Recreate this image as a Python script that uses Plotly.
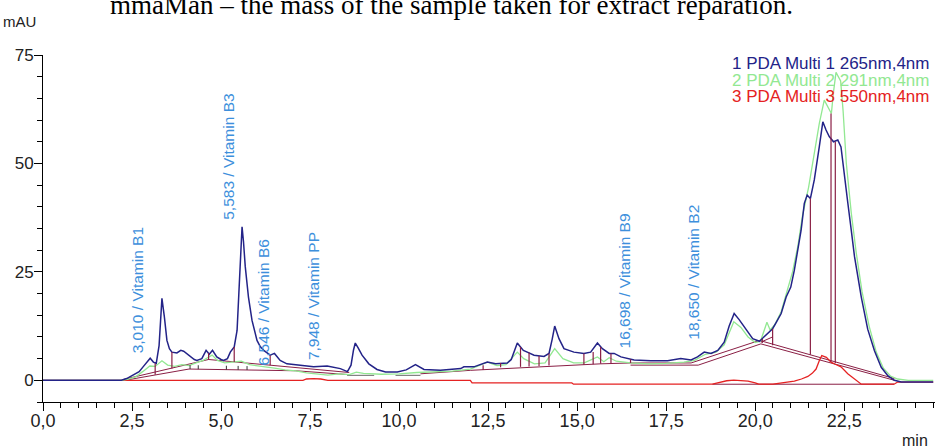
import plotly.graph_objects as go

# ---------------- data ----------------
blue_x = [0, 2.2, 2.35, 2.53, 2.7, 2.81, 2.92, 3.01, 3.1, 3.18, 3.26, 3.34, 3.41, 3.48, 3.55, 3.62, 3.76, 3.87, 3.95,
          4.05, 4.13, 4.25, 4.32, 4.46, 4.58, 4.67, 4.76, 4.88, 5.0, 5.07, 5.18, 5.26, 5.37, 5.45, 5.5, 5.55, 5.59,
          5.63, 5.68, 5.77, 5.87, 6.01, 6.1, 6.2, 6.38, 6.5, 6.66, 6.85, 7.23, 7.6, 7.98, 8.35, 8.55, 8.65, 8.72,
          8.77, 8.85, 8.96, 9.15, 9.38, 9.62, 9.95, 10.2, 10.46, 10.7, 11.16, 11.73, 11.82, 12.1, 12.48, 12.71,
          13.04, 13.15, 13.23, 13.32, 13.41, 13.49, 13.6, 13.79, 14.07, 14.21, 14.3, 14.37, 14.49, 14.63, 14.91,
          15.19, 15.38, 15.57, 15.71, 15.9, 16.04, 16.23, 16.6, 17.07, 17.54, 17.91, 18.2, 18.38, 18.57, 18.76,
          18.95, 19.13, 19.27, 19.41, 19.55, 19.69, 19.93, 20.12, 20.3, 20.49, 20.6, 20.73, 20.87, 21.0, 21.1,
          21.19, 21.29, 21.38, 21.46, 21.55, 21.66, 21.8, 21.9, 21.99, 22.08, 22.2, 22.32, 22.41, 22.5, 22.6,
          22.7, 22.79, 22.98, 23.16, 23.35, 23.54, 23.73, 23.91, 24.1, 25.0]
blue_y = [0, 0, 0.4, 1.15, 2.0, 3.1, 4.2, 5.1, 4.2, 3.9, 8.0, 18.9, 14.5, 9.2, 7.3, 6.5, 6.3, 6.9, 6.7,
          6.0, 5.5, 4.8, 4.6, 5.0, 6.9, 6.0, 6.9, 5.4, 4.8, 4.6, 5.0, 6.5, 7.7, 11.5, 20.0, 31.0, 35.4,
          32.0, 26.2, 19.2, 13.8, 9.2, 7.8, 6.9, 5.8, 6.2, 4.6, 3.8, 3.5, 3.1, 3.3, 2.7, 2.0, 3.5, 7.0,
          8.6, 7.5, 5.8, 3.8, 2.5, 1.9, 1.9, 2.4, 3.6, 2.5, 2.3, 2.7, 3.1, 3.1, 4.2, 3.8,
          4.0, 4.8, 6.5, 8.6, 7.7, 6.9, 6.5, 5.8, 5.5, 6.2, 9.5, 12.5, 9.6, 7.3, 6.5,
          6.2, 6.5, 8.6, 7.3, 6.2, 6.2, 5.4, 4.7, 4.5, 4.5, 5.0, 4.7, 5.4, 6.5, 6.2,
          6.9, 8.8, 12.5, 15.4, 14.0, 12.3, 9.6, 9.0, 10.4, 11.9, 13.5, 15.4, 19.2, 21.5, 25.4,
          30.0, 34.6, 40.8, 42.7, 41.9, 46.2, 53.8, 59.6, 57.7, 56.2, 55.0, 55.4, 53.8, 47.0, 41.0,
          34.5, 28.5, 19.2, 11.8, 6.8, 3.0, 1.0, 0.0, -0.4, -0.4]

green_x = [0, 2.2, 2.4, 2.6, 2.8, 3.0, 3.15, 3.34, 3.5, 3.7, 3.9, 4.1, 4.3, 4.5, 4.62, 4.75, 4.9, 5.1, 5.3,
           5.57, 5.8, 6.0, 6.3, 6.5, 6.8, 7.1, 7.4, 7.7, 8.0, 8.3, 8.6, 8.8, 9.0, 9.5, 10.0, 10.5, 11.0,
           11.5, 12.0, 12.48, 12.75, 13.0, 13.32, 13.5, 13.8, 14.1, 14.37, 14.6, 14.9, 15.2, 15.57, 15.75,
           15.9, 16.1, 16.5, 17.0, 17.5, 18.0, 18.3, 18.6, 18.9, 19.13, 19.4, 19.6, 19.8, 20.0, 20.15, 20.33,
           20.42, 20.55, 20.73, 20.9, 21.05, 21.2, 21.33, 21.5, 21.62, 21.8, 21.94, 22.05, 22.14, 22.2,
           22.27, 22.4, 22.47, 22.56, 22.7, 22.84, 23.0, 23.2, 23.4, 23.6, 23.8, 24.0, 24.3, 25.0]
green_y = [0, 0, 0.3, 0.8, 2.0, 3.3, 3.2, 4.5, 3.5, 3.2, 3.6, 3.4, 4.0, 4.6, 5.2, 5.8, 4.6, 4.0, 4.2,
           4.4, 3.6, 3.4, 3.0, 2.8, 2.4, 2.2, 1.7, 1.4, 1.2, 1.5, 1.3, 1.9, 1.6, 1.4, 1.5, 1.8, 1.9,
           2.1, 2.6, 4.2, 3.4, 3.6, 6.5, 5.0, 3.8, 4.0, 7.3, 5.0, 4.0, 4.0, 5.4, 4.3,
           5.2, 4.4, 4.0, 3.8, 3.9, 4.2, 4.6, 6.0, 6.5, 8.2, 13.5, 12.2, 10.0, 8.7, 9.0, 13.4,
           11.6, 12.8, 15.8, 20.5, 25.0, 31.0, 38.0, 44.5, 50.0, 59.2, 64.6, 63.0, 61.5, 66.5,
           71.0, 69.0, 62.0, 50.0, 38.5, 29.3, 20.5, 12.5, 6.5, 2.8, 1.0, 0.3, 0.0, 0.0]

red_x = [0, 7.3, 7.4, 7.6, 7.8, 7.95, 8.0, 12.0, 12.05, 14.85, 14.9, 18.8, 19.0, 19.2, 19.4, 19.6, 19.8,
         20.0, 20.1, 20.5, 20.8, 21.1, 21.3, 21.48, 21.6, 21.71, 21.8, 21.87, 22.0, 22.13, 22.25, 22.41,
         22.6, 22.75, 22.88, 22.98, 23.35, 23.9, 24.0, 25.0]
red_y = [0, 0, 0.3, 0.4, 0.3, 0.1, 0, 0, -0.6, -0.6, -0.9, -0.9, -0.5, -0.1, 0.05, 0.0, -0.2,
         -0.6, -0.9, -0.9, -0.6, -0.2, 0.3, 0.9, 1.6, 2.6, 4.5, 5.7, 5.3, 4.2, 3.7, 3.1,
         1.5, 0.5, -0.4, -0.9, -0.9, -0.9, -0.4, -0.4]

# integration baselines (maroon polylines)
baseline_lines = [
    ([2.26, 4.65, 8.6], [0.2, 4.8, 1.8]),
    ([2.3, 4.1, 7.1, 8.6], [0.0, 2.6, 2.2, 1.3]),
    ([10.6, 12.0, 15.66, 16.5, 18.2, 20.12, 23.91], [1.5, 2.3, 3.8, 4.0, 4.0, 9.2, 0.4]),
    ([16.5, 18.4, 20.16, 23.91], [3.5, 3.5, 8.4, 0.0]),
    ([20.16, 20.49], [8.8, 10.0]),
    ([18.8, 23.9], [-0.9, -0.9]),
]
gray_lines = [
    ([8.54, 9.3], [1.15, 1.15]),
    ([9.9, 10.6], [1.15, 1.15]),
]
# drop lines: (time, top, bottom)
drop_t = [3.15, 3.62, 4.65, 5.37, 6.38, 12.36, 12.85, 13.41, 13.65, 13.93, 14.21, 15.19, 15.45, 15.66,
          15.95, 16.5, 20.2, 20.49, 21.55, 22.13, 22.25]
drop_top = [3.9, 6.5, 6.3, 7.7, 5.8, 3.5, 4.0, 7.7, 6.4, 5.6, 6.2, 6.2, 6.5, 7.7,
            6.2, 4.9, 9.5, 11.9, 41.9, 61.5, 55.0]
drop_bot = [1.3, 2.7, 4.7, 4.2, 3.5, 2.4, 3.0, 3.1, 3.2, 3.3, 3.4, 3.6, 3.7, 3.8,
            3.9, 4.0, 8.6, 8.1, 5.9, 4.3, 4.0]
tick_t = [4.13, 4.36, 5.15, 5.48, 5.73]
tick_base = [2.6, 2.57, 2.46, 2.42, 2.38]

peak_rt = [3.010, 5.583, 6.546, 7.948, 16.698, 18.650]
peak_names = ["3,010 / Vitamin B1", "5,583 / Vitamin B3", "6,546 / Vitamin B6",
              "7,948 / Vitamin PP", "16,698 / Vitamin B9", "18,650 / Vitamin B2"]
label_y = [5.8, 36.5, 3.0, 4.2, 6.9, 8.8]

legend_texts = ["1 PDA Multi 1 265nm,4nm", "2 PDA Multi 2 291nm,4nm", "3 PDA Multi 3 550nm,4nm"]
x_tickvals = [0, 2.5, 5, 7.5, 10, 12.5, 15, 17.5, 20, 22.5]
x_ticktext = ["0,0", "2,5", "5,0", "7,5", "10,0", "12,5", "15,0", "17,5", "20,0", "22,5"]
y_tickvals = [0, 25, 50, 75]

# ---------------- styles ----------------
BLUE = "#232388"
GREEN = "#92e892"
RED = "#e52222"
MAROON = "#8a1f45"
LABEL = "#3d8fdc"
NARROW = "Liberation Sans Narrow, Arial Narrow, Liberation Sans, Arial"


def segs(lines):
    xs, ys = [], []
    for lx, ly in lines:
        xs += list(lx) + [None]
        ys += list(ly) + [None]
    return xs, ys


fig = go.Figure()

bx, by = segs(baseline_lines)
fig.add_trace(go.Scatter(x=bx, y=by, mode="lines", line=dict(color=MAROON, width=1), hoverinfo="skip"))
gx, gy = segs(gray_lines)
fig.add_trace(go.Scatter(x=gx, y=gy, mode="lines", line=dict(color="#666666", width=1), hoverinfo="skip"))

fig.add_trace(go.Scatter(x=red_x, y=red_y, mode="lines", line=dict(color=RED, width=1.3), name="3"))
fig.add_trace(go.Scatter(x=green_x, y=green_y, mode="lines", line=dict(color=GREEN, width=1.3), name="2"))
fig.add_trace(go.Scatter(x=blue_x, y=blue_y, mode="lines", line=dict(color=BLUE, width=1.5), name="1"))

dx, dy = segs([([t, t], [a, b]) for t, a, b in zip(drop_t, drop_top, drop_bot)])
fig.add_trace(go.Scatter(x=dx, y=dy, mode="lines", line=dict(color=MAROON, width=1.2), hoverinfo="skip"))
tx, ty = segs([([t, t], [b, b + 0.9]) for t, b in zip(tick_t, tick_base)])
fig.add_trace(go.Scatter(x=tx, y=ty, mode="lines", line=dict(color="#333333", width=1), hoverinfo="skip"))

annotations = []
for rt, name, ly in zip(peak_rt, peak_names, label_y):
    annotations.append(dict(x=rt, y=ly, xref="x", yref="y", text=name, showarrow=False, textangle=-90,
                            xanchor="center", yanchor="bottom", xshift=-13,
                            font=dict(family="Liberation Sans, Arial", size=15.5, color=LABEL)))

leg_colors = [BLUE, GREEN, RED]
leg_y = [0.9755, 0.9279, 0.8803]
for t, c, yy in zip(legend_texts, leg_colors, leg_y):
    annotations.append(dict(x=0.9944, y=yy, xref="paper", yref="paper", text=t, showarrow=False,
                            xanchor="right", yanchor="middle", borderpad=0,
                            font=dict(family="Liberation Sans, Arial", size=17, color=c)))

annotations.append(dict(x=-0.0269, y=1.097, xref="paper", yref="paper", text="mAU", showarrow=False,
                        xanchor="center", yanchor="middle", font=dict(family=NARROW, size=15, color="#222222")))
annotations.append(dict(x=0.9945, y=-0.112, xref="paper", yref="paper", text="min", showarrow=False,
                        xanchor="right", yanchor="middle", font=dict(family=NARROW, size=16, color="#222222")))
annotations.append(dict(x=0.073, y=1.094, xref="paper", yref="paper",
                        text="mmaMan \u2013 the mass of the sample taken for extract reparation.",
                        showarrow=False, xanchor="left", yanchor="bottom",
                        font=dict(family="Liberation Serif, Times New Roman, serif", size=27, color="#000000")))

fig.update_layout(
    width=935, height=448,
    margin=dict(l=43, r=0, t=55, b=46, autoexpand=False),
    paper_bgcolor="white", plot_bgcolor="white",
    showlegend=False,
    separators=",.",
    annotations=annotations,
    xaxis=dict(range=[0, 25.05], tickvals=x_tickvals, ticktext=x_ticktext, showline=True, linecolor="black",
               linewidth=1, ticks="outside", ticklen=8, tickcolor="black", showgrid=False, zeroline=False,
               automargin=False,
               tickfont=dict(family=NARROW, size=18, color="#222222"), ticklabelstandoff=-6,
               minor=dict(dtick=0.5, tick0=0, ticks="outside", ticklen=5, tickcolor="black", showgrid=False)),
    yaxis=dict(range=[-5, 75], tickvals=y_tickvals, showline=True, linecolor="black", linewidth=1,
               ticks="outside", ticklen=8, tickcolor="black", showgrid=False, zeroline=False,
               automargin=False, ticklabelstandoff=-3,
               tickfont=dict(family=NARROW, size=17, color="#222222"),
               minor=dict(dtick=5, tick0=0, ticks="outside", ticklen=5, tickcolor="black", showgrid=False)),
)

fig.write_html("out.html", config={"displayModeBar": False},
               post_script="document.body.style.margin='0';document.body.style.overflow='hidden';")
